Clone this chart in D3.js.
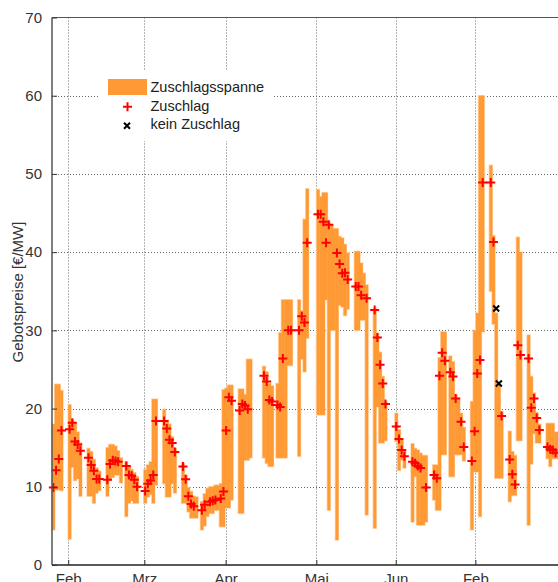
<!DOCTYPE html>
<html>
<head>
<meta charset="utf-8">
<script src="https://cdn.jsdelivr.net/npm/d3@7"></script>
<style>
  body { margin: 0; background: #fff; }
  svg { display: block; }
  text { font-family: Arial, "Liberation Sans", sans-serif; }
</style>
</head>
<body>
<div id="chart"></div>
<script>
// Zuschlagsspanne: one bar per auction day (min/max bid price)
const spanDay = [0,1,2,3,6,7,8,9,10,13,14,15,16,17,20,21,22,23,24,25,27,28,29,30,31,
  34,35,36,37,38,41,42,43,44,45,48,49,50,51,52,53,55,56,57,58,59,60,61,62,63,64,65,66,
  69,70,71,72,73,78,79,80,81,83,84,85,86,87,88,91,92,93,94,98,99,100,101,102,103,104,
  105,106,107,108,109,112,113,114,115,116,119,120,121,122,123,127,128,129,130,
  133,134,135,136,137,138,141,142,143,144,145,147,148,149,150,151,152,155,156,157,158,159,
  162,163,164,165,166,169,170,171,172,173,176,177,178,179,180,183,184,185,186,187];
const spanLow = [4.5,9.6,9.6,9.5,3.3,12.5,10.8,11.0,8.8,8.8,8.8,7.9,9.2,9.5,8.8,10.8,11.2,11.5,11.5,10.5,
  6.2,7.9,8.2,7.9,7.9,7.9,8.7,9.0,7.9,10.2,10.4,8.7,8.7,10.4,9.2,7.9,7.9,6.8,6.0,6.0,6.0,
  4.5,5.0,6.2,6.6,6.6,7.0,7.0,4.9,4.9,7.3,7.3,8.3,
  6.6,6.6,13.4,13.4,13.7,13.7,13.0,12.6,12.6,13.7,13.7,13.7,13.7,25.5,25.5,13.9,26.3,24.7,29.0,
  19.2,19.2,19.2,33.9,7.0,30.0,30.0,3.2,33.2,33.0,31.9,32.7,30.0,30.0,31.3,31.3,6.4,
  4.7,20.2,15.6,15.6,15.9,15.8,12.1,13.4,12.4,5.5,11.3,5.1,5.1,5.1,5.5,8.3,7.0,7.0,14.1,14.1,
  11.3,11.3,14.1,14.1,14.1,13.3,4.5,11.9,11.9,6.2,29.8,35.0,30.8,11.1,11.1,11.1,
  8.1,8.9,8.9,15.9,15.9,5.1,12.9,16.8,15.6,15.6,13.6,12.6,13.6,13.6,13.6];
const spanHigh = [18.0,23.1,23.1,22.3,20.5,18.6,18.2,17.0,15.6,14.9,14.5,13.5,12.4,12.0,15.0,15.4,15.4,15.2,14.6,13.7,
  13.2,12.7,12.2,11.8,11.3,12.2,12.8,13.2,21.2,21.2,19.9,18.5,18.0,16.4,14.9,13.0,11.5,9.9,9.4,8.8,8.7,
  8.1,9.1,9.8,10.0,10.0,10.2,10.2,10.4,22.4,22.6,23.0,23.0,
  22.5,22.5,21.8,26.3,26.3,25.4,24.7,23.2,22.9,23.2,29.7,33.9,33.9,33.9,33.9,33.9,32.5,44.2,48.1,
  48.0,47.1,47.6,47.6,43.8,43.5,43.0,43.0,42.0,41.8,41.0,39.9,40.1,40.1,38.6,37.3,35.8,
  32.8,29.6,27.2,24.1,20.9,19.4,17.3,16.0,14.7,15.5,14.9,14.7,14.3,14.0,14.0,12.8,12.8,26.5,29.8,29.8,
  26.7,26.0,21.7,21.3,19.4,17.6,20.9,30.0,32.2,60.0,60.0,51.1,42.1,32.2,23.0,19.6,
  17.1,14.5,14.0,41.9,40.0,29.4,24.1,22.0,19.5,18.0,18.1,18.1,18.1,17.0,17.0];

// Zuschlag (awarded price)
const zuschlagDay = [0,1,2,3,6,7,8,9,10,13,14,15,16,17,20,21,22,23,24,27,28,29,30,31,
  34,35,36,37,38,41,42,43,44,45,48,49,50,51,52,55,56,58,59,60,62,63,64,65,66,
  69,70,71,72,78,79,80,81,83,84,85,87,88,91,92,93,94,98,99,100,101,102,
  105,106,107,108,109,112,113,114,116,119,120,121,122,123,127,128,129,130,
  133,134,135,136,138,141,142,143,144,145,147,148,149,151,152,155,156,157,158,159,
  162,163,166,169,170,171,172,173,176,177,178,179,180,183,184,185,186];
const zuschlagPrice = [9.9,12.1,13.55,17.2,17.35,18.2,15.8,15.4,14.6,13.7,12.8,12.05,11.0,11.0,
  10.9,12.9,13.4,13.3,13.2,12.65,11.5,11.4,10.9,10.0,9.45,10.4,10.8,11.5,18.4,18.4,17.45,16.0,15.6,14.45,
  12.6,10.95,8.8,7.8,7.5,7.0,7.7,8.1,8.2,8.3,8.5,9.4,17.2,21.45,21.0,
  19.75,20.6,20.4,19.9,24.2,23.45,21.1,20.9,20.45,20.2,26.4,30.0,30.0,30.0,31.8,31.0,41.2,
  44.85,44.85,43.9,41.2,43.5,39.9,38.5,37.3,37.35,36.5,35.6,35.6,34.5,34.1,32.6,29.1,25.6,23.2,20.6,
  17.7,16.1,14.7,13.9,13.2,13.0,12.65,12.4,9.9,11.5,11.1,24.2,27.15,26.1,24.65,24.1,21.3,18.3,15.1,
  13.3,17.1,24.5,26.2,48.9,48.9,41.3,19.05,13.5,11.6,10.3,28.1,26.85,26.4,20.1,21.3,18.8,17.25,
  15.1,14.8,14.7,14.35];

// kein Zuschlag
const keinDay = [164, 165];
const keinPrice = [32.8, 23.2];

const monthLabels = ["Feb", "Mrz", "Apr", "Mai", "Jun", "Feb"];
const monthPos = [6.0, 34.2, 64.3, 97.9, 127.3, 156.8];
const yTicks = [0, 10, 20, 30, 40, 50, 60, 70];

const orange = "#ff9933";
const W = 558, H = 582;
const plot = { left: 52, right: 558, top: 17.5, bottom: 565 };

const svg = d3.select("#chart").append("svg")
  .attr("width", W).attr("height", H);

const x = d3.scaleLinear().domain([0, 187.4]).range([plot.left, plot.right]);
const y = d3.scaleLinear().domain([0, 70]).range([plot.bottom, plot.top]);

// grid
const grid = svg.append("g")
  .attr("stroke", "#666").attr("stroke-width", 1).attr("stroke-dasharray", "1,2");
grid.selectAll("line.h").data(yTicks.filter(d => d > 0 && d < 70)).enter()
  .append("line")
  .attr("x1", plot.left).attr("x2", plot.right)
  .attr("y1", d => Math.round(y(d)) + 0.5).attr("y2", d => Math.round(y(d)) + 0.5);
grid.selectAll("line.v").data(monthPos).enter()
  .append("line")
  .attr("y1", plot.top).attr("y2", plot.bottom)
  .attr("x1", d => Math.round(x(d)) + 0.5).attr("x2", d => Math.round(x(d)) + 0.5);

// bars: pale outline pass, then fill pass
const bars = spanDay.map((d, i) => ({ day: d, lo: spanLow[i], hi: spanHigh[i] }));
svg.append("g").selectAll("rect").data(bars).enter()
  .append("rect")
  .attr("x", d => x(d.day)).attr("width", d => x(d.day + 1) - x(d.day))
  .attr("y", d => y(d.hi)).attr("height", d => y(d.lo) - y(d.hi))
  .attr("fill", "#ffd6ad").attr("stroke", "#ffd6ad").attr("stroke-width", 1.6);
svg.append("g").selectAll("rect").data(bars).enter()
  .append("rect")
  .attr("x", d => x(d.day)).attr("width", d => x(d.day + 1) - x(d.day) + 0.3)
  .attr("y", d => y(d.hi)).attr("height", d => y(d.lo) - y(d.hi))
  .attr("fill", orange);

// markers
const plus = "M-4.5,0H4.5M0,-4.5V4.5";
const cross = "M-3,-3L3,3M-3,3L3,-3";
svg.append("g").selectAll("path").data(zuschlagDay).enter()
  .append("path")
  .attr("d", plus)
  .attr("transform", (d, i) => `translate(${x(d + 0.5)},${y(zuschlagPrice[i])})`)
  .attr("stroke", "#ff0000").attr("stroke-width", 2).attr("fill", "none");
svg.append("g").selectAll("path").data(keinDay).enter()
  .append("path")
  .attr("d", cross)
  .attr("transform", (d, i) => `translate(${x(d + 0.5)},${y(keinPrice[i])})`)
  .attr("stroke", "#000").attr("stroke-width", 2).attr("fill", "none");

// axes frame
const axisColor = "#555";
svg.append("line").attr("x1", plot.left).attr("x2", plot.left)
  .attr("y1", plot.top).attr("y2", plot.bottom)
  .attr("stroke", axisColor).attr("stroke-width", 1.5);
svg.append("line").attr("x1", plot.left).attr("x2", plot.right)
  .attr("y1", plot.bottom).attr("y2", plot.bottom)
  .attr("stroke", "#222").attr("stroke-width", 1.5);
svg.append("line").attr("x1", plot.left).attr("x2", plot.right)
  .attr("y1", plot.top).attr("y2", plot.top)
  .attr("stroke", axisColor).attr("stroke-width", 1.2);

// y axis ticks and labels
const yAxis = d3.axisLeft(y).tickValues(yTicks).tickSizeInner(-5).tickSizeOuter(0).tickPadding(10);
const gy = svg.append("g").attr("transform", `translate(${plot.left},0)`).call(yAxis);
gy.select(".domain").remove();
gy.selectAll("line").attr("stroke", "#333");
gy.selectAll("text").attr("font-size", 15).attr("fill", "#333")
  .attr("font-family", "Arial, 'Liberation Sans', sans-serif");

// x axis ticks and labels
const xAxis = d3.axisBottom(x).tickValues(monthPos)
  .tickFormat((d, i) => monthLabels[i]).tickSizeInner(-5).tickSizeOuter(0).tickPadding(8);
const gx = svg.append("g").attr("transform", `translate(0,${plot.bottom})`).call(xAxis);
gx.select(".domain").remove();
gx.selectAll("line").attr("stroke", "#333");
gx.selectAll("text").attr("font-size", 15).attr("fill", "#333")
  .attr("font-family", "Arial, 'Liberation Sans', sans-serif");

// y label
svg.append("text")
  .attr("transform", "translate(22.5,292) rotate(-90)")
  .attr("text-anchor", "middle")
  .attr("font-size", 15).attr("fill", "#333")
  .text("Gebotspreise [€/MW]");

// legend
const lg = svg.append("g");
lg.append("rect").attr("x", 100).attr("y", 71).attr("width", 172).attr("height", 70).attr("fill", "#fff");
lg.append("rect").attr("x", 108).attr("y", 79).attr("width", 39).attr("height", 16).attr("fill", orange);
lg.append("path").attr("d", plus).attr("transform", "translate(127.5,106.7)")
  .attr("stroke", "#ff0000").attr("stroke-width", 2).attr("fill", "none");
lg.append("path").attr("d", cross).attr("transform", "translate(127,125.7)")
  .attr("stroke", "#000").attr("stroke-width", 2).attr("fill", "none");
const legendText = ["Zuschlagsspanne", "Zuschlag", "kein Zuschlag"];
lg.selectAll("text").data(legendText).enter()
  .append("text")
  .attr("x", 150.5).attr("y", (d, i) => 92 + i * 18.7)
  .attr("font-size", 14.5).attr("fill", "#222")
  .text(d => d);
</script>
</body>
</html>
